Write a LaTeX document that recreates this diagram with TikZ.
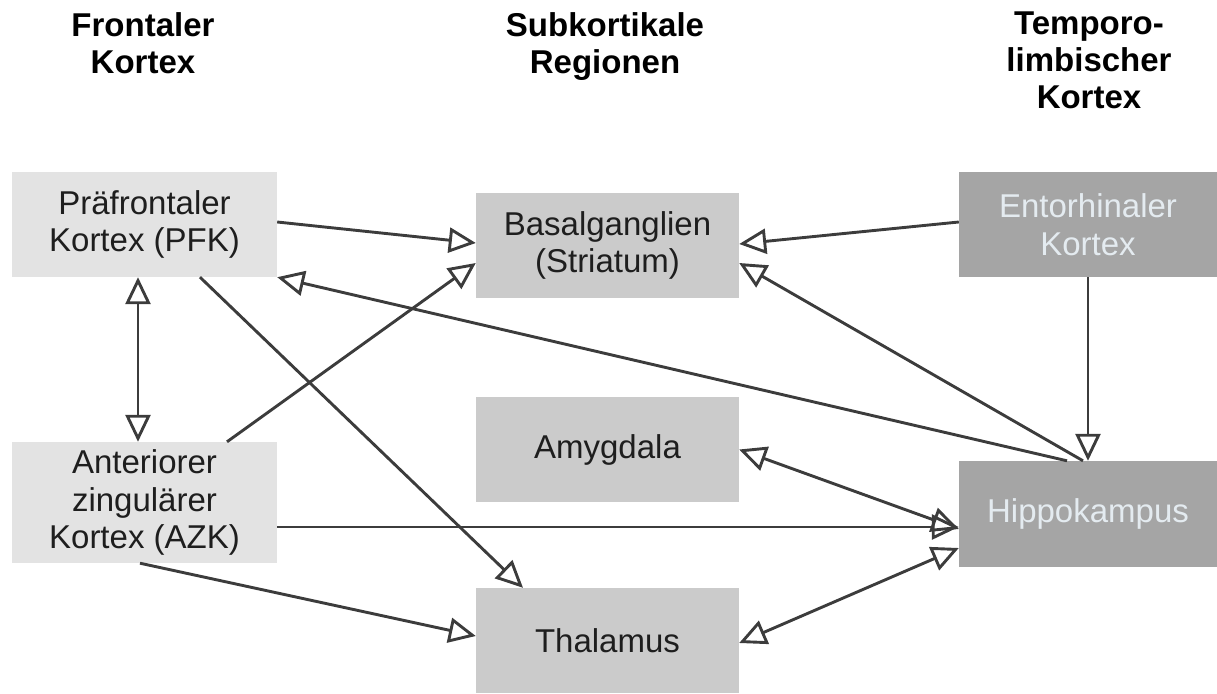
\documentclass[tikz,border=0pt]{standalone}
\usepackage{fontspec}
\setmainfont{Liberation Sans}
\usetikzlibrary{arrows.meta}
\definecolor{lightbox}{HTML}{E3E3E3}
\definecolor{midbox}{HTML}{CBCBCB}
\definecolor{darkbox}{HTML}{A5A5A5}
\definecolor{darktext}{HTML}{1E1E1E}
\definecolor{palettext}{HTML}{E4EBF0}
\definecolor{linecol}{HTML}{3C3C3C}
\tikzset{
  box/.style={rectangle, inner sep=0pt, align=center, text=darktext,
    font=\fontsize{33}{37.5}\selectfont},
  leftbox/.style={box, fill=lightbox, minimum width=265pt},
  midbox/.style={box, fill=midbox, minimum width=263pt, minimum height=105pt},
  rightbox/.style={box, fill=darkbox, text=palettext, minimum width=258pt},
  header/.style={anchor=north, inner sep=0pt, align=center, text=black,
    font=\fontsize{33}{37}\selectfont\bfseries},
  tip/.style={},
  link/.style={draw=linecol, line width=2.9pt,
    -{Triangle[open, length=27pt, width=25pt]}},
  both/.style={draw=linecol, line width=2.9pt,
    {Triangle[open, length=27pt, width=25pt]}-{Triangle[open, length=27pt, width=25pt]}}
}
\begin{document}
\begin{tikzpicture}[x=1pt, y=-1pt]
\useasboundingbox (0,0) rectangle (1217,693);
% headers
\node[header] (h1) at (143,12) {Frontaler\\Kortex};
\node[header] (h2) at (605,12) {Subkortikale\\Regionen};
\node[header] (h3) at (1089,12) {Temporo-\\limbischer\\Kortex};
% boxes
\node[leftbox, minimum height=105pt] (pfk) at (144.5,224.5) {Präfrontaler\\Kortex (PFK)};
\node[leftbox, minimum height=121pt] (azk) at (144.5,502.5) {Anteriorer\\zingulärer\\Kortex (AZK)};
\node[midbox] (bg) at (607.5,245.5) {Basalganglien\\(Striatum)};
\node[midbox] (amy) at (607.5,449.5) {Amygdala};
\node[midbox] (thal) at (607.5,640.5) {Thalamus};
\node[rightbox, minimum height=105pt] (ent) at (1088,224.5) {Entorhinaler\\Kortex};
\node[rightbox, minimum height=106pt] (hip) at (1088,514) {Hippokampus};
% connectors
\draw[link] ([yshift=2.5pt]pfk.east) -- ([yshift=2.5pt]bg.west);
\draw[link] ([xshift=82.5pt]azk.north) -- ([yshift=-17.5pt]bg.west);
\draw[link] ([xshift=-21pt]hip.north) -- (pfk.south east);
\draw[link] ([xshift=-5pt]hip.north) -- ([yshift=-17.5pt]bg.east);
\draw[link] ([yshift=2.5pt]ent.west) -- ([yshift=1.5pt]bg.east);
\draw[link] (ent.south) -- (hip.north);
\draw[both] ([xshift=-6.5pt]pfk.south) -- ([xshift=-6.5pt]azk.north);
\draw[link] ([xshift=55.5pt]pfk.south) -- ([xshift=-84.5pt]thal.north);
\draw[link] ([yshift=-24.5pt]azk.east) -- ([yshift=-13pt]hip.west);
\draw[link] ([xshift=-4.5pt]azk.south) -- ([yshift=4.5pt]thal.west);
\draw[both] (amy.east) -- ([yshift=-15pt]hip.west);
\draw[both] ([yshift=-2.5pt]thal.east) -- ([yshift=-34pt]hip.west);
\end{tikzpicture}
\end{document}
